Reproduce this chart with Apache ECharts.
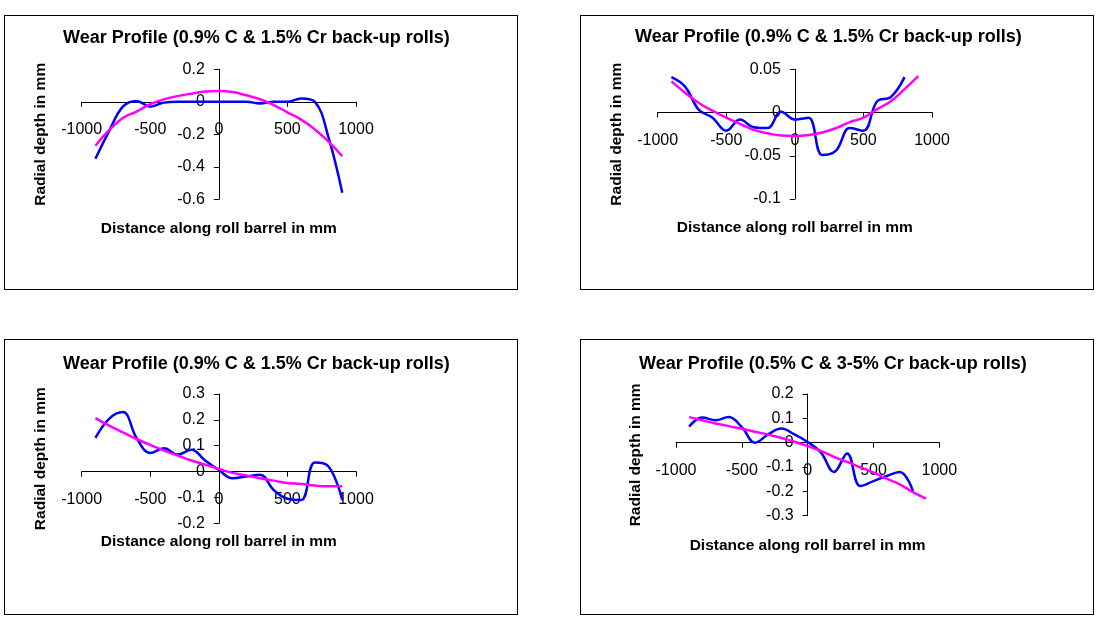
<!DOCTYPE html>
<html>
<head>
<meta charset="utf-8">
<script src="https://cdn.jsdelivr.net/npm/echarts@6/dist/echarts.min.js"></script>
<style>
  body { margin: 0; background: #fff; width: 1096px; height: 619px; position: relative; overflow: hidden; }
  .box { position: absolute; box-sizing: border-box; border: 1px solid #000; background: #fff; }
</style>
</head>
<body>
<div id="c1" class="box" style="left:4px;top:15px;width:514px;height:275px;"></div>
<div id="c2" class="box" style="left:580px;top:15px;width:514px;height:275px;"></div>
<div id="c3" class="box" style="left:4px;top:339px;width:514px;height:276px;"></div>
<div id="c4" class="box" style="left:580px;top:339px;width:514px;height:276px;"></div>
<script>
// distance along roll barrel (mm)
const distFull = [-900, -800, -700, -600, -500, -400, -300, -200, -100, 0, 100, 200, 300, 400, 500, 600, 700, 800, 900];
const distShort = [-900, -800, -700, -600, -500, -400, -300, -200, -100, 0, 100, 200, 300, 400, 500, 600, 700, 800];

// chart 1 - 0.9% C & 1.5% Cr
const wear1 = [-0.35, -0.18, -0.03, 0.005, -0.03, -0.005, 0, 0, 0, 0, 0, 0, -0.01, 0, 0, 0.02, 0, -0.22, -0.56];
const trend1 = [-0.27, -0.175, -0.10, -0.06, -0.015, 0.015, 0.035, 0.05, 0.063, 0.066, 0.06, 0.04, 0.016, -0.02, -0.065, -0.11, -0.17, -0.245, -0.335];

// chart 2 - 0.9% C & 1.5% Cr
const wear2 = [0.041, 0.030, 0.003, -0.006, -0.021, -0.008, -0.017, -0.018, 0.001, -0.008, -0.006, -0.049, -0.044, -0.018, -0.021, 0.013, 0.018, 0.041];
const trend2 = [0.036, 0.023, 0.011, 0.002, -0.006, -0.013, -0.020, -0.024, -0.0265, -0.027, -0.026, -0.023, -0.018, -0.011, -0.006, 0.004, 0.013, 0.027, 0.042];

// chart 3 - 0.9% C & 1.5% Cr
const wear3 = [0.13, 0.204, 0.23, 0.13, 0.072, 0.09, 0.066, 0.084, 0.043, 0.006, -0.026, -0.019, -0.012, -0.071, -0.105, -0.11, 0.035, 0.02, -0.11];
const trend3 = [0.207, 0.178, 0.152, 0.126, 0.103, 0.081, 0.062, 0.043, 0.027, 0.010, -0.005, -0.015, -0.026, -0.035, -0.044, -0.048, -0.054, -0.057, -0.057];

// chart 4 - 0.5% C & 3-5% Cr
const wear4 = [0.066, 0.103, 0.092, 0.105, 0.064, 0.0, 0.034, 0.058, 0.034, 0.003, -0.04, -0.12, -0.044, -0.178, -0.158, -0.137, -0.12, -0.199];
const trend4 = [0.105, 0.092, 0.079, 0.068, 0.057, 0.045, 0.033, 0.019, 0.004, -0.014, -0.034, -0.058, -0.079, -0.101, -0.123, -0.148, -0.171, -0.203, -0.230];

const titleA = 'Wear Profile (0.9% C & 1.5% Cr back-up rolls)';
const titleB = 'Wear Profile (0.5% C & 3-5% Cr back-up rolls)';
const xName = 'Distance along roll barrel in mm';
const yName = 'Radial depth in mm';

const X_MIN = -1000, X_MAX = 1000, X_STEP = 500;
const FONT = '"Liberation Sans", Arial, sans-serif';

function pairs(xs, ys) {
  return ys.map(function (v, i) { return [xs[i], v]; });
}

function makeChart(id, cfg) {
  let chart = echarts.init(document.getElementById(id), null, { renderer: 'canvas' });
  let g = cfg.grid;
  // put both axes through the origin (labels move with them)
  let xOffset = -g.height * (0 - cfg.yMin) / (cfg.yMax - cfg.yMin);
  let yOffset = -g.width * (0 - X_MIN) / (X_MAX - X_MIN);
  let lineStyle = { color: '#000', width: 1 };
  let option = {
    animation: false,
    title: {
      text: cfg.title,
      left: cfg.titleLeft,
      top: cfg.titleTop,
      padding: 0,
      textStyle: { fontFamily: FONT, fontSize: 18, fontWeight: 'bold', color: '#000' }
    },
    grid: Object.assign({ containLabel: false, outerBoundsMode: 'none' }, g),
    xAxis: {
      type: 'value',
      min: X_MIN, max: X_MAX, interval: X_STEP,
      offset: xOffset,
      name: xName,
      nameLocation: 'middle',
      nameGap: cfg.xGap,
      nameMoveOverlap: false,
      nameTextStyle: { fontFamily: FONT, fontSize: 15.5, fontWeight: 'bold', color: '#000' },
      axisLine: { onZero: false, lineStyle: lineStyle },
      axisTick: { show: true, inside: false, length: 5, lineStyle: lineStyle },
      axisLabel: { fontFamily: FONT, fontSize: 16, color: '#000', margin: 20, formatter: function (v) { return String(v); } },
      splitLine: { show: false }
    },
    yAxis: {
      type: 'value',
      min: cfg.yMin, max: cfg.yMax, interval: cfg.yStep,
      offset: yOffset,
      name: yName,
      nameLocation: 'middle',
      nameGap: cfg.yGap,
      nameMoveOverlap: false,
      nameTextStyle: { fontFamily: FONT, fontSize: 15.5, fontWeight: 'bold', color: '#000' },
      axisLine: { onZero: false, lineStyle: lineStyle },
      axisTick: { show: true, inside: false, length: 5, lineStyle: lineStyle },
      axisLabel: { fontFamily: FONT, fontSize: 16, color: '#000', margin: 14, formatter: function (v) { return String(+v.toFixed(3)); } },
      splitLine: { show: false }
    },
    series: [
      {
        type: 'line', data: pairs(cfg.wearX, cfg.wear), showSymbol: false, smooth: 0.4,
        lineStyle: { color: '#0000ff', width: 2.5 }, itemStyle: { color: '#0000ff' }
      },
      {
        type: 'line', data: pairs(distFull, cfg.trend), showSymbol: false, smooth: 0.5,
        lineStyle: { color: '#ff00ff', width: 2.5 }, itemStyle: { color: '#ff00ff' }
      }
    ]
  };
  chart.setOption(option);
  return chart;
}

makeChart('c1', {
  title: titleA, titleLeft: 58, titleTop: 13,
  grid: { left: 76.7, top: 53.3, width: 274.3, height: 130 },
  yMin: -0.6, yMax: 0.2, yStep: 0.2, xGap: 119, yGap: 170,
  wearX: distFull, wear: wear1, trend: trend1
});
makeChart('c2', {
  title: titleA, titleLeft: 54, titleTop: 12.5,
  grid: { left: 76.7, top: 53.3, width: 274.3, height: 129.7 },
  yMin: -0.1, yMax: 0.05, yStep: 0.05, xGap: 107, yGap: 170,
  wearX: distShort, wear: wear2, trend: trend2
});
makeChart('c3', {
  title: titleA, titleLeft: 58, titleTop: 15,
  grid: { left: 76.7, top: 54, width: 274.3, height: 129.3 },
  yMin: -0.2, yMax: 0.3, yStep: 0.1, xGap: 62, yGap: 170,
  wearX: distFull, wear: wear3, trend: trend3
});
makeChart('c4', {
  title: titleB, titleLeft: 58, titleTop: 15,
  grid: { left: 95, top: 54, width: 263.3, height: 121.7 },
  yMin: -0.3, yMax: 0.2, yStep: 0.1, xGap: 95, yGap: 164,
  wearX: distShort, wear: wear4, trend: trend4
});
</script>
</body>
</html>
